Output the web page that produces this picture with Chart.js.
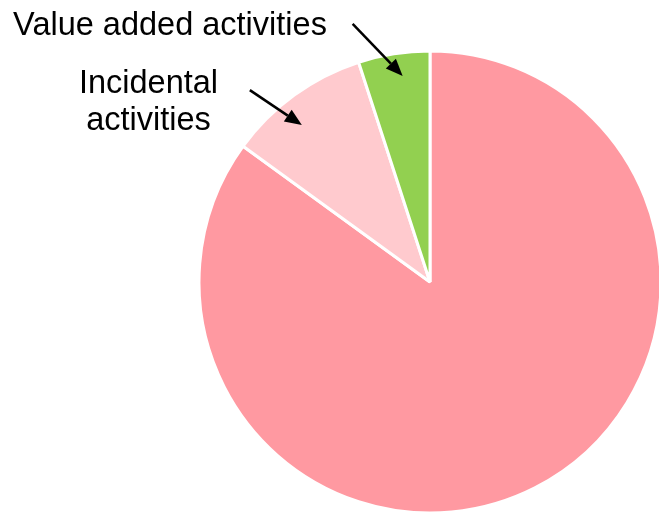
<!DOCTYPE html>
<html>
<head>
<meta charset="utf-8">
<script src="https://cdn.jsdelivr.net/npm/chart.js@4"></script>
<style>
  html, body { margin: 0; padding: 0; background: #fff; overflow: hidden; }
  #wrap { width: 659px; height: 514px; }
</style>
</head>
<body>
<div id="wrap"><canvas id="pieChart" width="659" height="514"></canvas></div>
<script>
const categories = ["Non-value added activities", "Incidental activities", "Value added activities"];
const shares = [85, 10, 5];
const sliceColors = ["#FF99A1", "#FFCACE", "#92D050"];

// callouts: which slice, text lines, where the text sits,
// arrow tip as fraction along the slice + fraction of radius, tail offset from tip
const callouts = [
  { index: 2, lines: ["Value added activities"], textX: 170, textY: 35, along: 0.58, tipR: 0.9, tail: [-50, -52] },
  { index: 1, lines: ["Incidental", "activities"], textX: 148.5, textY: 93, along: 0.41, tipR: 0.877, tail: [-52, -35] },
];

const calloutPlugin = {
  id: "callouts",
  afterDraw(chart) {
    const ctx = chart.ctx;
    const arcs = chart.getDatasetMeta(0).data;
    ctx.save();
    ctx.font = "32.5px 'Liberation Sans', Arial, sans-serif";
    ctx.fillStyle = "#000";
    ctx.textAlign = "center";
    ctx.textBaseline = "alphabetic";
    callouts.forEach((c) => {
      c.lines.forEach((line, i) => ctx.fillText(line, c.textX, c.textY + i * 37));
      const arc = arcs[c.index];
      const a = arc.startAngle + (arc.endAngle - arc.startAngle) * c.along;
      const tx = arc.x + Math.cos(a) * arc.outerRadius * c.tipR;
      const ty = arc.y + Math.sin(a) * arc.outerRadius * c.tipR;
      const sx = tx + c.tail[0];
      const sy = ty + c.tail[1];
      const ang = Math.atan2(ty - sy, tx - sx);
      const head = 17, half = 7;
      const bx = tx - Math.cos(ang) * head;
      const by = ty - Math.sin(ang) * head;
      ctx.strokeStyle = "#000";
      ctx.lineWidth = 2.5;
      ctx.beginPath();
      ctx.moveTo(sx, sy);
      ctx.lineTo(bx, by);
      ctx.stroke();
      ctx.beginPath();
      ctx.moveTo(tx, ty);
      ctx.lineTo(bx + Math.sin(ang) * half, by - Math.cos(ang) * half);
      ctx.lineTo(bx - Math.sin(ang) * half, by + Math.cos(ang) * half);
      ctx.closePath();
      ctx.fill();
    });
    ctx.restore();
  },
};

new Chart(document.getElementById("pieChart"), {
  type: "pie",
  data: {
    labels: categories,
    datasets: [{
      data: shares,
      backgroundColor: sliceColors,
      borderColor: "#ffffff",
      borderWidth: 3,
    }],
  },
  options: {
    responsive: false,
    animation: false,
    radius: 231,
    layout: { padding: { left: 201, right: 0, top: 50, bottom: 0 } },
    plugins: {
      legend: { display: false },
      tooltip: { enabled: false },
    },
  },
  plugins: [calloutPlugin],
});
</script>
</body>
</html>
